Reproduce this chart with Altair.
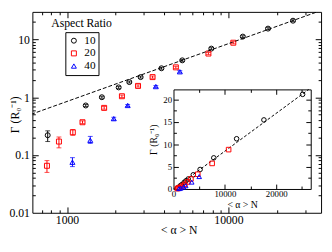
import altair as alt
import pandas as pd

# ---------------- data ----------------
ar_labels = ["10", "20", "40"]
ar_colors = ["#000000", "#ff0000", "#0000ff"]
ar_shapes = ["circle", "square", "triangle-up"]

ar10_x = [759, 1306, 1644, 2089, 2432, 2858, 3846, 5176, 7834, 12280, 17590, 25120]
ar10_y = [0.220, 0.72, 1.00, 1.48, 1.83, 2.23, 3.17, 4.35, 6.94, 11.2, 15.4, 21.1]
ar10_lo = [0.171, 0.69, 0.96, 1.42, 1.76, 2.14, 3.05, 4.18, 6.67, 10.8, 14.8, 20.3]
ar10_hi = [0.262, 0.75, 1.04, 1.54, 1.90, 2.32, 3.29, 4.52, 7.21, 11.6, 16.0, 21.9]

ar20_x = [751, 891, 1086, 1247, 1698, 2188, 2754, 3389, 4723, 7516, 10720]
ar20_y = [0.0651, 0.171, 0.247, 0.369, 0.654, 1.04, 1.57, 2.23, 3.29, 5.70, 8.78]
ar20_lo = [0.050, 0.133, 0.220, 0.350, 0.620, 0.99, 1.50, 2.13, 3.15, 5.46, 8.42]
ar20_hi = [0.080, 0.205, 0.275, 0.390, 0.690, 1.09, 1.64, 2.33, 3.43, 5.94, 9.14]

ar40_x = [1080, 1393, 1948, 2376, 3550, 5000]
ar40_y = [0.075, 0.180, 0.426, 0.72, 1.53, 2.76]
ar40_lo = [0.063, 0.159, 0.400, 0.69, 1.47, 2.64]
ar40_hi = [0.090, 0.210, 0.450, 0.75, 1.59, 2.88]

fit_main_x = [600, 40000]
fit_main_y = [0.507, 33.8]
fit_inset_x = [0, 26300]
fit_inset_y = [0, 22.2]

main_x_labels = [1000, 10000]
main_x_ticks = [700, 800, 900, 1000, 2000, 3000, 4000, 5000, 6000, 7000, 8000, 9000,
                10000, 20000, 30000]
main_y_labels = [0.01, 0.1, 1, 10]
main_y_ticks = [0.02, 0.03, 0.04, 0.05, 0.06, 0.07, 0.08, 0.09, 0.1,
                0.2, 0.3, 0.4, 0.5, 0.6, 0.7, 0.8, 0.9, 1,
                2, 3, 4, 5, 6, 7, 8, 9, 10, 20]
inset_x_labels = [0, 10000, 20000]
inset_x_ticks = [5000, 10000, 15000, 20000, 25000]
inset_y_labels = [0, 5, 10, 15, 20]
inset_y_ticks = [2.5, 5, 7.5, 10, 12.5, 15, 17.5, 20]

legend_title = ["Aspect Ratio"]
x_title = "< α > N"
y_title = "Γ (R₀⁻¹)"

rows = []
for lab, xs, ys, los, his in zip(ar_labels,
                                 [ar10_x, ar20_x, ar40_x],
                                 [ar10_y, ar20_y, ar40_y],
                                 [ar10_lo, ar20_lo, ar40_lo],
                                 [ar10_hi, ar20_hi, ar40_hi]):
    for a, b, c, d in zip(xs, ys, los, his):
        rows.append({"ar": lab, "x": a, "y": b, "lo": c, "hi": d})
df = pd.DataFrame(rows)
df_fit = pd.DataFrame({"fx": fit_main_x, "fy": fit_main_y})
df_fit_in = pd.DataFrame({"fx": fit_inset_x, "fy": fit_inset_y})
df_title = pd.DataFrame({"t": legend_title})

# ---------------- layout ----------------
W, H = 296, 206
IX0, IX1 = 144.7, 285.4      # inset x pixel range
IY0, IY1 = 181.6, 79.5       # inset y pixel range (bottom, top)
SERIF = "Liberation Serif"

xs_main = alt.Scale(type="log", domain=[610, 37500], nice=False)
ys_main = alt.Scale(type="log", domain=[0.01, 30], nice=False)
xs_in = alt.Scale(type="linear", domain=[0, 26700], range=[IX0, IX1], nice=False, zero=False)
ys_in = alt.Scale(type="linear", domain=[0, 22.2], range=[IY0, IY1], nice=False, zero=False)


def major(vals):
    return " || ".join("datum.value == %s" % v for v in vals)


def tick_axis(orient, offset, values, majors, domain=False, big=6, small=3):
    return alt.Axis(orient=orient, offset=offset, values=values, labels=False,
                    domain=domain, domainColor="black", domainWidth=1,
                    ticks=True, tickColor="black", tickWidth=1,
                    tickSize={"condition": {"test": major(majors), "value": big}, "value": small},
                    grid=False, title=None)


def label_axis(orient, offset, values, fs, **kw):
    return alt.Axis(orient=orient, offset=offset, values=values, ticks=False,
                    domain=True, domainColor="black", domainWidth=1, grid=False,
                    labelExpr="'' + datum.value", labelFont=SERIF, labelFontSize=fs,
                    labelColor="black", labelFlush=False, labelOverlap=False,
                    titleFont=SERIF, titleFontWeight="normal", titleColor="black", **kw)


cscale = alt.Scale(domain=ar_labels, range=ar_colors)
sscale = alt.Scale(domain=ar_labels, range=ar_shapes)
leg = alt.Legend(title=None, orient="none", legendX=33.8, legendY=20.8, direction="vertical",
                 strokeColor="black", fillColor="white", padding=3, cornerRadius=0,
                 labelFont=SERIF, labelFontSize=11.5, labelColor="black", labelOffset=5,
                 symbolSize=26, symbolStrokeWidth=1, rowPadding=0)
color_leg = alt.Color("ar:N", scale=cscale, legend=leg)
shape_leg = alt.Shape("ar:N", scale=sscale, legend=leg)
color_nl = alt.Color("ar:N", scale=cscale, legend=None)
shape_nl = alt.Shape("ar:N", scale=sscale, legend=None)

x_major_main = [1000, 10000]
y_major_main = [0.1, 1, 10]

# ---------------- main plot ----------------
main_pts = alt.Chart(df).mark_point(filled=False, size=26, strokeWidth=1, opacity=1).encode(
    x=alt.X("x:Q", scale=xs_main,
            axis=label_axis("bottom", 0, main_x_labels, 12, labelPadding=2, title=x_title,
                            titleFontSize=12, titleX=150, titleY=21, titleBaseline="alphabetic")),
    y=alt.Y("y:Q", scale=ys_main,
            axis=label_axis("left", 0, main_y_labels, 12, labelPadding=3, title=y_title,
                            titleFontSize=12, titleX=-18, titleY=105, titleBaseline="middle")),
    color=color_leg, shape=shape_leg)

main_err = alt.Chart(df).mark_rule(strokeWidth=1).encode(
    x=alt.X("x:Q", scale=xs_main, axis=tick_axis("top", -H, main_x_ticks, x_major_main)),
    y=alt.Y("lo:Q", scale=ys_main, axis=tick_axis("right", -W, main_y_ticks, y_major_main)),
    y2="hi:Q", color=color_nl)

main_cap_lo = alt.Chart(df).mark_tick(orient="horizontal", size=5, thickness=1).encode(
    x=alt.X("x:Q", scale=xs_main, axis=tick_axis("bottom", -H, main_x_ticks, x_major_main, domain=True)),
    y=alt.Y("lo:Q", scale=ys_main, axis=tick_axis("left", -W, main_y_ticks, y_major_main, domain=True)),
    color=color_nl)

main_cap_hi = alt.Chart(df).mark_tick(orient="horizontal", size=5, thickness=1).encode(
    x=alt.X("x:Q", scale=xs_main, axis=None),
    y=alt.Y("hi:Q", scale=ys_main, axis=None),
    color=color_nl)

main_fit = alt.Chart(df_fit).mark_line(color="black", strokeWidth=1, strokeDash=[4, 2], clip=True).encode(
    x=alt.X("fx:Q", scale=xs_main, axis=None),
    y=alt.Y("fy:Q", scale=ys_main, axis=None))

# ---------------- inset ----------------
in_pts = alt.Chart(df).mark_point(filled=False, size=22, strokeWidth=1, opacity=1).encode(
    x=alt.X("x:Q", scale=xs_in,
            axis=label_axis("bottom", IY0 - H, inset_x_labels, 9, labelPadding=1, title=x_title,
                            titleFontSize=10, titleX=(IX0 + IX1) / 2, titleY=18.5,
                            titleBaseline="alphabetic")),
    y=alt.Y("y:Q", scale=ys_in,
            axis=label_axis("left", -IX0, inset_y_labels, 9, labelPadding=2, title=y_title,
                            titleFontSize=10, titleX=-20, titleY=(IY0 + IY1) / 2,
                            titleBaseline="middle")),
    color=color_nl, shape=shape_nl)

in_fit = alt.Chart(df_fit_in).mark_line(color="black", strokeWidth=1, strokeDash=[3, 2]).encode(
    x=alt.X("fx:Q", scale=xs_in, axis=tick_axis("top", -IY0, inset_x_ticks, [10000, 20000], big=5, small=3)),
    y=alt.Y("fy:Q", scale=ys_in, axis=tick_axis("right", IX0 - W, inset_y_ticks, [5, 10, 15, 20], big=5, small=3)))

in_frame = alt.Chart(df).mark_point(opacity=0).encode(
    x=alt.X("x:Q", scale=xs_in, axis=tick_axis("bottom", IY1 - H, inset_x_ticks, [10000, 20000], domain=True, big=5, small=3)),
    y=alt.Y("y:Q", scale=ys_in, axis=tick_axis("left", -IX1, inset_y_ticks, [5, 10, 15, 20], domain=True, big=5, small=3)))

title_txt = alt.Chart(df_title).mark_text(font=SERIF, fontSize=12, color="black",
                                          align="center", baseline="alphabetic").encode(
    x=alt.value(50.4), y=alt.value(15.8), text="t:N")

chart = alt.layer(
    main_pts, main_fit, main_err, main_cap_lo, main_cap_hi,
    in_fit, in_frame, in_pts, title_txt
).resolve_scale(
    x="independent", y="independent"
).resolve_legend(
    color="independent", shape="independent"
).properties(
    width=W, height=H,
    padding={"left": 25, "top": 1, "right": 3, "bottom": 28},
    autosize=alt.AutoSizeParams(type="none"),
).configure(font=SERIF).configure_view(stroke=None)

chart.save("out.html", embed_options={"renderer": "svg", "actions": False})
